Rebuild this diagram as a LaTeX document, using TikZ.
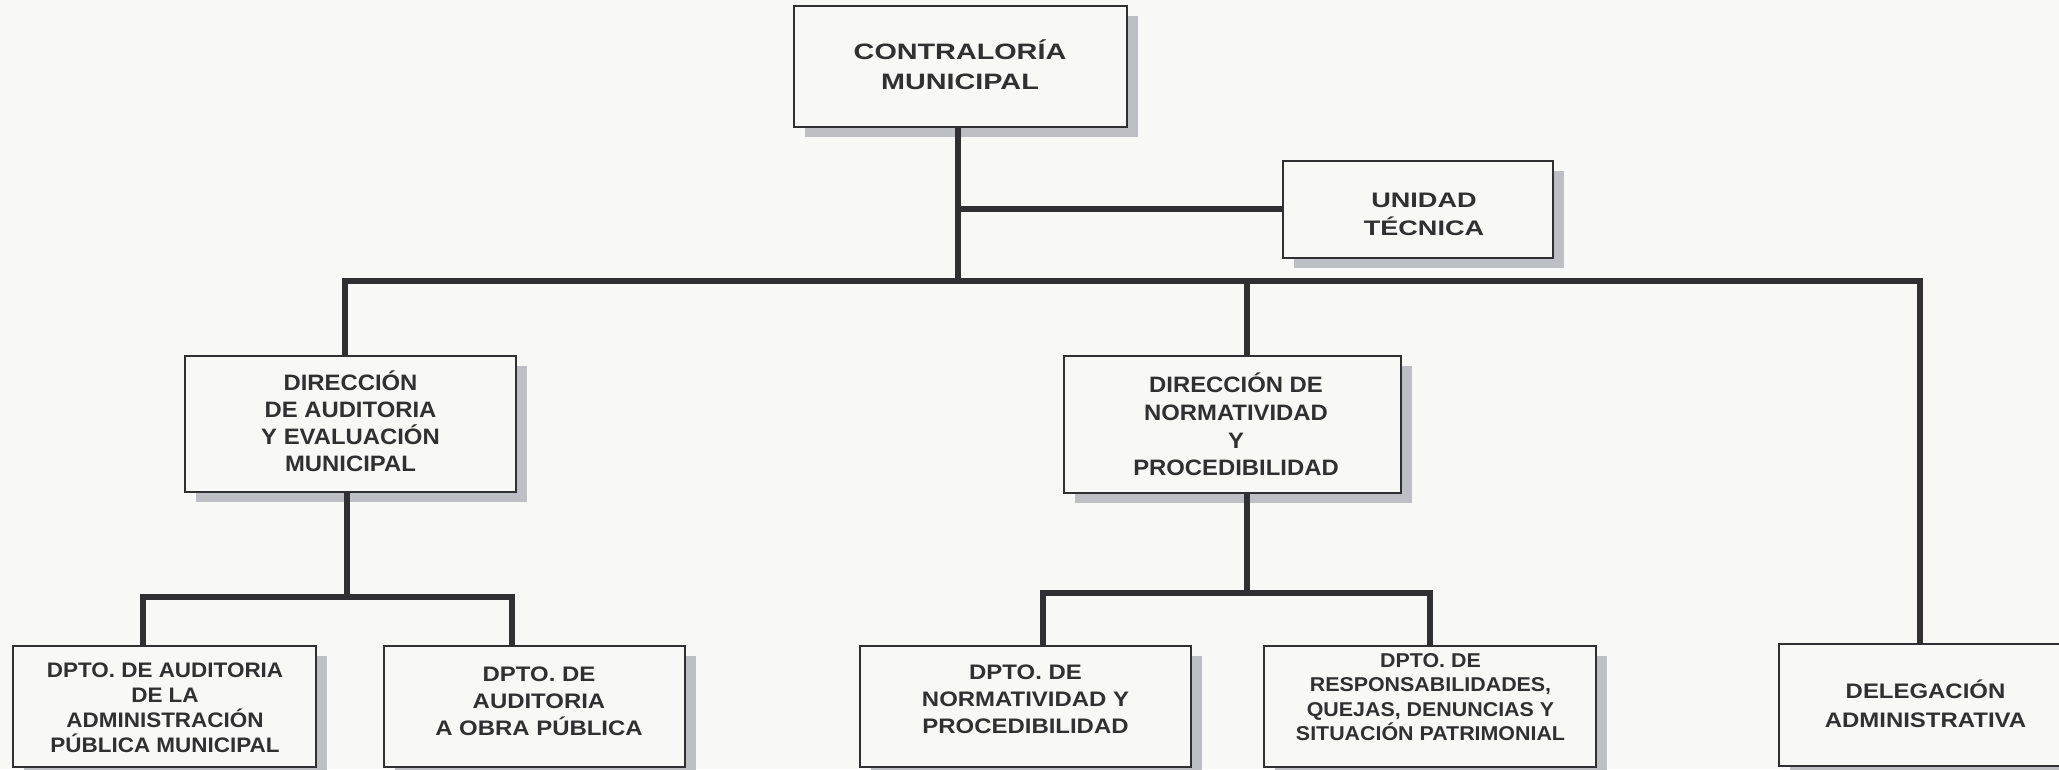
\documentclass[tikz,border=0pt]{standalone}
\usepackage{fontspec}
\setmainfont{Liberation Sans}
\newfontfamily\famwide[FakeStretch=1.29]{Liberation Sans}
\newfontfamily\fammid[FakeStretch=1.07]{Liberation Sans}
\newfontfamily\famsemi[FakeStretch=1.14]{Liberation Sans}
\usetikzlibrary{shadows}
\definecolor{bg}{RGB}{248,248,246}
\definecolor{ink}{RGB}{48,48,50}
\definecolor{shade}{RGB}{190,191,196}
\tikzset{
  orgbox/.style={draw=ink, line width=2.2pt, fill=bg, inner sep=0pt,
    drop shadow={shadow xshift=11pt, shadow yshift=-10pt, fill=shade, opacity=1}},
  boxtext/.style={text=ink, align=center, inner sep=0pt},
  conn/.style={draw=ink, line width=6pt, line join=miter}
}
\begin{document}
\begin{tikzpicture}[x=1pt,y=-1pt]
\useasboundingbox (0,0) rectangle (2059,769);
\fill[bg] (0,0) rectangle (2059,769);

% boxes
\node[orgbox, minimum width=333pt, minimum height=121pt] (contra) at (960.5,66.5) {};
\node[orgbox, minimum width=270pt, minimum height=97pt] (unidad) at (1418,209.5) {};
\node[orgbox, minimum width=331pt, minimum height=136pt] (diraud) at (350.5,424) {};
\node[orgbox, minimum width=337pt, minimum height=137pt] (dirnorm) at (1232.5,424.5) {};
\node[orgbox, minimum width=303pt, minimum height=121pt] (dptoadm) at (164.5,706.5) {};
\node[orgbox, minimum width=301pt, minimum height=121pt] (dptoobra) at (534.5,706.5) {};
\node[orgbox, minimum width=331pt, minimum height=121pt] (dptonorm) at (1025.5,706.5) {};
\node[orgbox, minimum width=332pt, minimum height=121pt] (dptoresp) at (1430,706.5) {};
\node[orgbox, minimum width=291pt, minimum height=122pt] (deleg) at (1924.5,705) {};

% texts
\node[boxtext, font={\famwide\bfseries\fontsize{22.3}{30}\selectfont}] (contra-t) at (960,65) {CONTRALORÍA\\MUNICIPAL};
\node[boxtext, font={\famwide\bfseries\fontsize{21}{28}\selectfont}] (unidad-t) at (1424,214) {UNIDAD\\TÉCNICA};
\node[boxtext, font={\fammid\bfseries\fontsize{22.3}{27}\selectfont}] (diraud-t) at (350.5,421.5) {DIRECCIÓN\\DE AUDITORIA\\Y EVALUACIÓN\\MUNICIPAL};
\node[boxtext, font={\fammid\bfseries\fontsize{22.3}{27.7}\selectfont}] (dirnorm-t) at (1236,424.5) {DIRECCIÓN DE\\NORMATIVIDAD\\Y\\PROCEDIBILIDAD};
\node[boxtext, font={\fammid\bfseries\fontsize{21}{25}\selectfont}] (dptoadm-t) at (165,708) {DPTO. DE AUDITORIA\\DE LA\\ADMINISTRACIÓN\\PÚBLICA MUNICIPAL};
\node[boxtext, font={\famsemi\bfseries\fontsize{21}{27}\selectfont}] (dptoobra-t) at (539,701) {DPTO. DE\\AUDITORIA\\A OBRA PÚBLICA};
\node[boxtext, font={\famsemi\bfseries\fontsize{21}{27}\selectfont}] (dptonorm-t) at (1025.5,699) {DPTO. DE\\NORMATIVIDAD Y\\PROCEDIBILIDAD};
\node[boxtext, font={\fammid\bfseries\fontsize{20}{24.5}\selectfont}] (dptoresp-t) at (1430.5,697) {DPTO. DE\\RESPONSABILIDADES,\\QUEJAS, DENUNCIAS Y\\SITUACIÓN PATRIMONIAL};
\node[boxtext, font={\famsemi\bfseries\fontsize{21}{29}\selectfont}] (deleg-t) at (1925.5,704) {DELEGACIÓN\\ADMINISTRATIVA};

% connector coordinates
\coordinate (trunk) at (958,281);
\coordinate (branch) at (958,209);
\coordinate (busL) at (345,281);
\coordinate (busM) at (1247,281);
\coordinate (busR) at (1920,281);
\coordinate (s1M) at (347,597);
\coordinate (s1L) at (143,597);
\coordinate (s1R) at (512,597);
\coordinate (s2M) at (1247,593);
\coordinate (s2L) at (1043,593);
\coordinate (s2R) at (1430,593);

% connectors
\draw[conn] (trunk |- contra.south) -- (trunk);
\draw[conn] (branch) -- (unidad.west |- branch);
\draw[conn] (busL |- diraud.north) -- (busL) -- (busR) -- (busR |- deleg.north);
\draw[conn] (busM) -- (busM |- dirnorm.north);
\draw[conn] (s1M |- diraud.south) -- (s1M);
\draw[conn] (s1L |- dptoadm.north) -- (s1L) -- (s1R) -- (s1R |- dptoobra.north);
\draw[conn] (s2M |- dirnorm.south) -- (s2M);
\draw[conn] (s2L |- dptonorm.north) -- (s2L) -- (s2R) -- (s2R |- dptoresp.north);
\end{tikzpicture}
\end{document}
